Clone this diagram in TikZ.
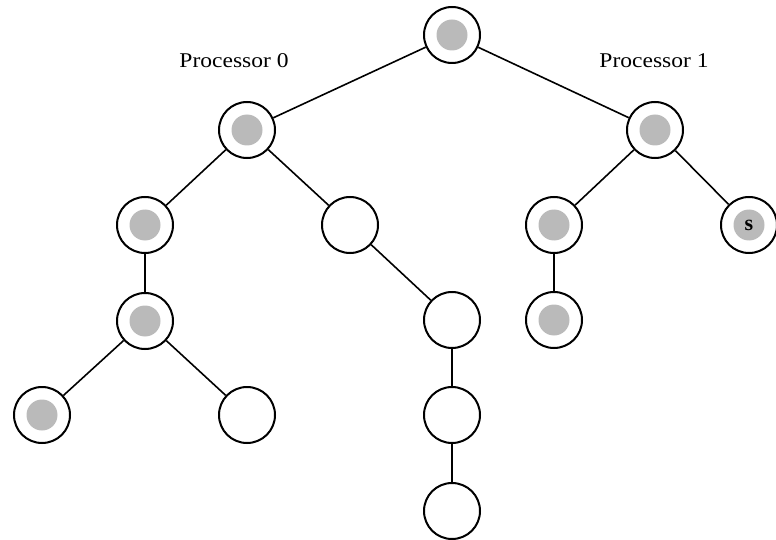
\documentclass[tikz,border=0pt]{standalone}
\usepackage{fontspec}
\setmainfont{Liberation Serif}
\begin{document}
\begin{tikzpicture}[x=1pt,y=-1pt,
  tnode/.style={circle,draw=black,line width=2pt,minimum size=56pt,inner sep=0pt},
  full/.style={tnode,path picture={\fill[black!27] (path picture bounding box.center) circle (15.5pt);}},
  edge/.style={line width=1.6pt},
  lbl/.style={font=\fontsize{21}{24}\selectfont,xscale=1.12}]
\useasboundingbox (0,0) rectangle (776,540);
\node[full] (r) at (452,35) {};
\node[full] (a) at (247,130) {};
\node[full] (b) at (655,130) {};
\node[full] (c) at (145,225) {};
\node[tnode] (d) at (350,225) {};
\node[full] (e) at (554,225) {};
\node[full] (f) at (749,225) {\bfseries\fontsize{22}{22}\selectfont s};
\node[full] (g) at (145,321) {};
\node[tnode] (h) at (452,320) {};
\node[full] (i) at (554,320) {};
\node[full] (j) at (42,415) {};
\node[tnode] (k) at (247,415) {};
\node[tnode] (l) at (452,415) {};
\node[tnode] (m) at (452,511) {};
\node[lbl] (p0) at (234,61) {Processor 0};
\node[lbl] (p1) at (654,61) {Processor 1};
\draw[edge] (r) -- (a);
\draw[edge] (r) -- (b);
\draw[edge] (a) -- (c);
\draw[edge] (a) -- (d);
\draw[edge] (b) -- (e);
\draw[edge] (b) -- (f);
\draw[edge] (c) -- (g);
\draw[edge] (d) -- (h);
\draw[edge] (e) -- (i);
\draw[edge] (g) -- (j);
\draw[edge] (g) -- (k);
\draw[edge] (h) -- (l);
\draw[edge] (l) -- (m);
\end{tikzpicture}
\end{document}
